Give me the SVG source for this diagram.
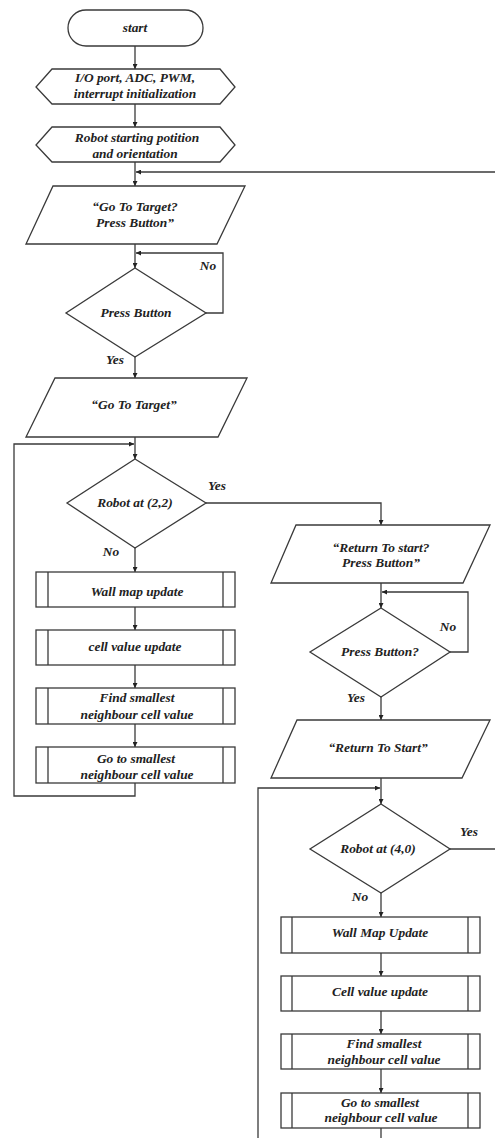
<svg xmlns="http://www.w3.org/2000/svg" width="495" height="1138" viewBox="0 0 495 1138">
<style>
.s{fill:#fff;stroke:#3a3a3a;stroke-width:1.3}
.c{fill:none;stroke:#3a3a3a;stroke-width:1.3}
text{font-family:"Liberation Serif","Times New Roman",serif;font-weight:bold;font-style:italic;font-size:13.4px;fill:#222;text-anchor:middle}
</style>
<defs>
<marker id="ah" viewBox="0 0 10 10" refX="10" refY="5" markerWidth="5" markerHeight="5" orient="auto" markerUnits="userSpaceOnUse"><path d="M0,0L10,5L0,10z" fill="#222"/></marker>
</defs>
<rect width="495" height="1138" fill="#fff"/>
<g id="connectors">
<line class="c" x1="135" y1="46" x2="135" y2="69" marker-end="url(#ah)"/>
<line class="c" x1="135" y1="104" x2="135" y2="127" marker-end="url(#ah)"/>
<line class="c" x1="135" y1="162" x2="135" y2="186" marker-end="url(#ah)"/>
<line class="c" x1="495" y1="172" x2="136" y2="172" marker-end="url(#ah)"/>
<line class="c" x1="135" y1="244" x2="135" y2="268" marker-end="url(#ah)"/>
<polyline class="c" points="206,313 223,313 223,253 136,253" marker-end="url(#ah)"/>
<line class="c" x1="135" y1="357" x2="135" y2="378" marker-end="url(#ah)"/>
<line class="c" x1="135" y1="437" x2="135" y2="459" marker-end="url(#ah)"/>
<polyline class="c" points="135,783 135,796 14,796 14,444 134,444" marker-end="url(#ah)"/>
<polyline class="c" points="206,503 381,503 381,525" marker-end="url(#ah)"/>
<line class="c" x1="135" y1="548" x2="135" y2="572" marker-end="url(#ah)"/>
<line class="c" x1="135" y1="607" x2="135" y2="630" marker-end="url(#ah)"/>
<line class="c" x1="135" y1="665" x2="135" y2="688" marker-end="url(#ah)"/>
<line class="c" x1="135" y1="724" x2="135" y2="747" marker-end="url(#ah)"/>
<line class="c" x1="381" y1="583" x2="381" y2="608" marker-end="url(#ah)"/>
<polyline class="c" points="450,652 468,652 468,592 382,592" marker-end="url(#ah)"/>
<line class="c" x1="381" y1="697" x2="381" y2="720" marker-end="url(#ah)"/>
<line class="c" x1="381" y1="778" x2="381" y2="804" marker-end="url(#ah)"/>
<polyline class="c" points="258,1138 258,788 380,788" marker-end="url(#ah)"/>
<line class="c" x1="450" y1="849" x2="495" y2="849"/>
<line class="c" x1="381" y1="893" x2="381" y2="917" marker-end="url(#ah)"/>
<line class="c" x1="381" y1="953" x2="381" y2="976" marker-end="url(#ah)"/>
<line class="c" x1="381" y1="1011" x2="381" y2="1034" marker-end="url(#ah)"/>
<line class="c" x1="381" y1="1069" x2="381" y2="1093" marker-end="url(#ah)"/>
<line class="c" x1="381" y1="1128" x2="381" y2="1138"/>
<text x="208" y="270">No</text>
<text x="115" y="364">Yes</text>
<text x="217" y="490">Yes</text>
<text x="111" y="556">No</text>
<text x="448" y="631">No</text>
<text x="356" y="702">Yes</text>
<text x="469" y="836">Yes</text>
<text x="360" y="901">No</text>
</g>
<g id="start"><rect class="s" x="68" y="10" width="135" height="36" rx="18"/><text x="135" y="32">start</text></g>
<g id="init"><polygon class="s" points="52,69 220,69 235,87 220,104 52,104 36,87"/><text x="135" y="82">I/O port, ADC, PWM,</text><text x="135" y="98">interrupt initialization</text></g>
<g id="startpos"><polygon class="s" points="52,127 220,127 235,145 220,162 52,162 36,145"/><text x="137" y="142">Robot starting potition</text><text x="135" y="158">and orientation</text></g>
<g id="prompt1"><polygon class="s" points="53,186 245,186 217,244 26,244"/><text x="135" y="211">“Go To Target?</text><text x="135" y="227">Press Button”</text></g>
<g id="press1"><polygon class="s" points="135,268 206,313 135,357 66,313"/><text x="136" y="317">Press Button</text></g>
<g id="goto"><polygon class="s" points="55,378 247,378 218,437 26,437"/><text x="134" y="409">“Go To Target”</text></g>
<g id="at22"><polygon class="s" points="135,459 206,503 135,548 67,503"/><text x="135" y="507">Robot at (2,2)</text></g>
<g id="wall1"><rect class="s" x="36" y="572" width="199" height="35"/><line class="c" x1="48" y1="572" x2="48" y2="607"/><line class="c" x1="223" y1="572" x2="223" y2="607"/><text x="137" y="596">Wall map update</text></g>
<g id="cell1"><rect class="s" x="36" y="630" width="199" height="35"/><line class="c" x1="48" y1="630" x2="48" y2="665"/><line class="c" x1="223" y1="630" x2="223" y2="665"/><text x="135" y="651">cell value update</text></g>
<g id="find1"><rect class="s" x="36" y="688" width="199" height="36"/><line class="c" x1="48" y1="688" x2="48" y2="724"/><line class="c" x1="223" y1="688" x2="223" y2="724"/><text x="137" y="702">Find smallest</text><text x="137" y="719">neighbour cell value</text></g>
<g id="go1"><rect class="s" x="36" y="747" width="199" height="36"/><line class="c" x1="48" y1="747" x2="48" y2="783"/><line class="c" x1="223" y1="747" x2="223" y2="783"/><text x="136" y="763">Go to smallest</text><text x="137" y="779">neighbour cell value</text></g>
<g id="prompt2"><polygon class="s" points="296,525 490,525 463,583 271,583"/><text x="381" y="552">“Return To start?</text><text x="381" y="567">Press Button”</text></g>
<g id="press2"><polygon class="s" points="381,608 450,652 381,697 310,652"/><text x="380" y="656">Press Button?</text></g>
<g id="ret"><polygon class="s" points="297,720 490,720 462,778 271,778"/><text x="378" y="752">“Return To Start”</text></g>
<g id="at40"><polygon class="s" points="381,804 450,849 381,893 310,849"/><text x="378" y="853">Robot at (4,0)</text></g>
<g id="wall2"><rect class="s" x="281" y="917" width="199" height="36"/><line class="c" x1="292" y1="917" x2="292" y2="953"/><line class="c" x1="468" y1="917" x2="468" y2="953"/><text x="380" y="937">Wall Map Update</text></g>
<g id="cell2"><rect class="s" x="281" y="976" width="199" height="35"/><line class="c" x1="292" y1="976" x2="292" y2="1011"/><line class="c" x1="468" y1="976" x2="468" y2="1011"/><text x="380" y="996">Cell value update</text></g>
<g id="find2"><rect class="s" x="281" y="1034" width="199" height="35"/><line class="c" x1="292" y1="1034" x2="292" y2="1069"/><line class="c" x1="468" y1="1034" x2="468" y2="1069"/><text x="384" y="1048">Find smallest</text><text x="384" y="1064">neighbour cell value</text></g>
<g id="go2"><rect class="s" x="281" y="1093" width="199" height="35"/><line class="c" x1="292" y1="1093" x2="292" y2="1128"/><line class="c" x1="468" y1="1093" x2="468" y2="1128"/><text x="380" y="1107">Go to smallest</text><text x="381" y="1122">neighbour cell value</text></g>
</svg>
